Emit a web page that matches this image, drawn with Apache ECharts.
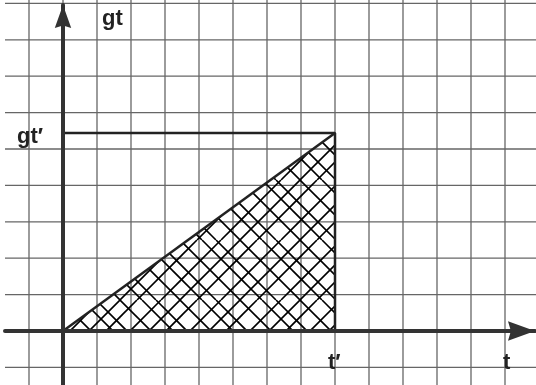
<!DOCTYPE html>
<html><head><meta charset="utf-8">
<script src="https://cdn.jsdelivr.net/npm/echarts@6/dist/echarts.min.js"></script>
<style>html,body{margin:0;padding:0;background:#fff}#c{width:536px;height:385px}</style>
</head><body><div id="c"></div>
<script>
// ---- data ----
const xGridValues = [-1,0,1,2,3,4,5,6,7,8,9,10,11,12,13];
const yGridValues = [-1,0,1,2,3,4,5,6,7,8,9];
const rampT = [0, 8];          // t from 0 to t'
const rampGt = [0, 5.44];      // gt from 0 to gt'
const labels = ['gt', 'gt\u2032', 't\u2032', 't'];

// ---- layout ----
const W = 536, H = 385, X0 = 63, Y0 = 331, DX = 34, DY = 36.4;
const G = {left: 5, right: 1, top: 5, bottom: 0};
const X_MIN = (G.left - X0) / DX, X_MAX = (W - G.right - X0) / DX;
const Y_MIN = -(H - G.bottom - Y0) / DY, Y_MAX = (Y0 - G.top) / DY;
const X_EDGE_L = (5 - X0) / DX, X_EDGE_R = (W - X0) / DX;
const Y_EDGE_T = Y0 / DY, Y_EDGE_B = -(H - Y0) / DY;
const ARROW = 'path://M10,0 L20,28 L10,25 L0,28 Z';
const FONT = 'bold 22px "Liberation Sans"';

// hatch pattern
function hatch() {
  const S = 60, c = document.createElement('canvas');
  c.width = S; c.height = S;
  const g = c.getContext('2d');
  g.strokeStyle = '#000'; g.lineWidth = 1.6;
  const up = [0, 17, 41], down = [0, 22, 36];
  up.forEach(o => [-S, 0, S].forEach(k => { g.beginPath(); g.moveTo(o + k, S); g.lineTo(o + k + S, 0); g.stroke(); }));
  down.forEach(o => [-S, 0, S].forEach(k => { g.beginPath(); g.moveTo(o + k, 0); g.lineTo(o + k + S, S); g.stroke(); }));
  return c;
}

const tPrime = rampT[1], gtPrime = rampGt[1];
const chart = echarts.init(document.getElementById('c'), null, {renderer: 'canvas'});
const axisBase = (sz) => ({
  show: true, onZero: true, symbol: ['none', ARROW], symbolSize: sz, symbolOffset: [0, -sz[1] / 2],
  lineStyle: {color: '#333', width: 4}
});
chart.setOption({
  animation: false,
  grid: G,
  xAxis: {type: 'value', min: X_MIN, max: X_MAX, axisLine: axisBase([20, 27]),
    axisTick: {show: false}, axisLabel: {show: false}, splitLine: {show: false}, z: 10},
  yAxis: {type: 'value', min: Y_MIN, max: Y_MAX, axisLine: axisBase([19, 23]),
    axisTick: {show: false}, axisLabel: {show: false}, splitLine: {show: false}, z: 10},
  series: [
    {type: 'custom', clip: false, silent: true, z: 1, data: xGridValues.map(v => [v]),
      renderItem: (p, api) => { const v = api.value(0); const a = api.coord([v, Y_EDGE_T]), b = api.coord([v, Y_EDGE_B]);
        return {type: 'line', shape: {x1: a[0], y1: a[1], x2: b[0], y2: b[1]}, style: {stroke: '#666', lineWidth: 1.3}}; }},
    {type: 'custom', clip: false, silent: true, z: 1, data: yGridValues.map(v => [v]),
      renderItem: (p, api) => { const v = api.value(0); const a = api.coord([X_EDGE_L, v]), b = api.coord([X_EDGE_R, v]);
        return {type: 'line', shape: {x1: a[0], y1: a[1], x2: b[0], y2: b[1]}, style: {stroke: '#666', lineWidth: 1.3}}; }},
    {type: 'line', z: 3, symbol: 'none', data: rampT.map((t, i) => [t, rampGt[i]]),
      lineStyle: {color: '#222', width: 2.5},
      areaStyle: {color: {image: hatch(), repeat: 'repeat'}, opacity: 1}},
    {type: 'line', z: 4, symbol: 'none', data: [[0, gtPrime], [tPrime, gtPrime], [tPrime, 0]],
      lineStyle: {color: '#222', width: 2.5}}
  ],
  graphic: [
    {type: 'text', left: 102, top: 8, z: 20, style: {text: labels[0], font: FONT, fill: '#222'}},
    {type: 'text', left: 17, top: 126, z: 20, style: {text: labels[1], font: FONT, fill: '#222'}},
    {type: 'text', left: 328, top: 352, z: 20, style: {text: labels[2], font: FONT, fill: '#222'}},
    {type: 'text', left: 503, top: 352, z: 20, style: {text: labels[3], font: FONT, fill: '#222'}}
  ]
});
</script></body></html>
